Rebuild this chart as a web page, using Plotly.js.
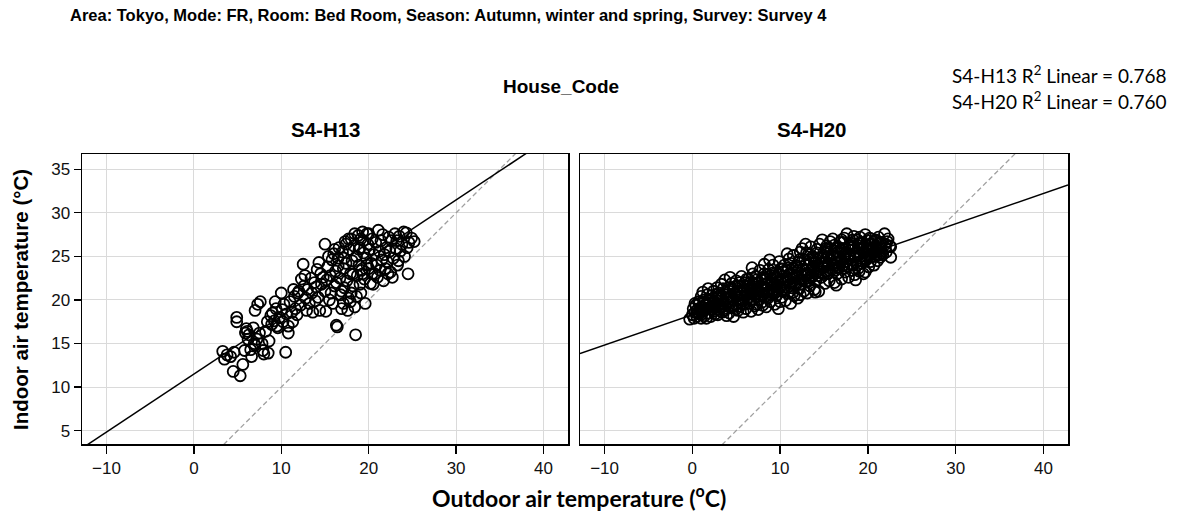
<!DOCTYPE html>
<html>
<head>
<meta charset="utf-8">
<script src="https://cdn.plot.ly/plotly-3.0.1.min.js"></script>
<style>html,body{margin:0;padding:0;background:#fff;}#chart{width:1179px;height:513px;}</style>
</head>
<body>
<div id="chart"></div>
<script>
// ---- Data ----
const panelTitles = ["S4-H13", "S4-H20"];
const r2Labels = ["S4-H13 R<sup>2</sup> Linear = 0.768", "S4-H20 R<sup>2</sup> Linear = 0.760"];
const xTicks = [-10, 0, 10, 20, 30, 40];
const yTicks = [5, 10, 15, 20, 25, 30, 35];
// fitted lines: [intercept, slope]
const h13Fit = [11.5, 0.666];
const h20Fit = [18.3, 0.348];

// S4-H13: [outdoor, indoor]
const h13Points = [
[3.3,14.1],[3.5,13.2],[3.8,13.7],[4.2,13.5],[4.5,11.8],[5.3,11.3],[4.6,14.0],[4.9,18.0],[4.9,17.5],[5.6,12.6],
[5.8,14.2],[6.0,16.7],[6.1,16.4],[6.3,16.0],[6.5,14.3],[6.6,13.5],[6.9,15.0],[7.0,14.8],[7.2,15.5],[7.3,19.5],
[7.6,19.8],[7.0,18.8],[7.5,16.2],[7.8,15.0],[8.0,13.8],[8.2,16.4],[8.4,17.5],[8.6,15.3],[8.8,18.2],[8.9,17.2],
[6.2,15.5],[6.8,16.8],[5.9,16.2],[7.9,14.2],[8.5,13.9],
[9.0,18.5],[9.2,17.6],[9.4,19.0],[9.6,16.8],[9.8,18.0],[10.0,20.8],[10.2,17.5],[10.3,19.5],[10.5,14.0],[10.6,18.4],
[10.8,17.0],[11.0,19.8],[11.2,18.6],[11.3,17.5],[11.5,20.4],[11.6,19.0],[11.8,18.3],[12.0,21.0],[12.2,19.4],[12.3,22.4],
[12.5,24.1],[12.6,21.6],[12.8,20.2],[13.0,21.2],[13.2,19.6],[13.4,22.5],[13.5,20.8],[13.6,18.6],[13.8,22.0],[14.0,21.5],
[14.1,23.5],[14.2,20.3],[14.4,18.8],[14.5,23.0],[14.6,21.8],[14.8,22.6],[9.5,17.0],[10.8,16.2],[11.9,20.8],[12.9,18.8],
[13.9,19.9],[9.3,19.8],[10.1,18.9],[11.4,21.2],[12.7,22.8],[14.3,24.3],
[15.0,26.4],[15.0,21.0],[15.1,18.7],[15.3,23.8],[15.5,20.0],[15.6,22.8],[15.8,24.6],[15.9,19.6],[16.0,25.3],[16.1,21.6],
[16.2,23.3],[16.3,17.1],[16.4,16.9],[16.5,24.8],[16.6,26.0],[16.7,22.5],[16.8,20.6],[16.9,19.0],[17.0,25.5],[17.1,23.6],
[17.2,21.4],[17.3,26.7],[17.4,24.2],[17.5,22.2],[17.6,18.8],[17.7,20.2],[17.8,25.8],[17.9,23.0],[18.0,27.0],[18.1,24.5],
[18.2,21.6],[18.3,26.2],[18.4,19.2],[18.5,16.0],[18.6,25.0],[18.7,22.8],[18.8,27.4],[18.9,24.0],[19.0,26.0],[19.1,20.8],
[19.2,23.4],[19.3,27.8],[19.4,25.4],[19.5,22.4],[19.6,19.6],[19.7,24.8],[19.8,27.6],[19.9,26.4],[20.0,23.6],[20.1,25.8],
[20.2,21.9],[20.3,24.2],[20.4,27.0],[20.5,21.8],[20.6,25.2],[20.7,23.0],[20.8,26.6],[20.9,24.0],[21.0,22.6],[21.1,28.0],
[21.2,25.6],[15.4,25.0],[16.5,23.9],[17.2,24.8],[17.7,27.0],[18.2,23.0],[18.6,20.4],[19.0,21.8],[19.4,26.8],[15.7,20.8],
[16.9,21.0],[17.9,19.8],[18.9,25.8],[19.8,24.0],[20.4,23.0],[16.1,25.8],[17.4,26.4],[18.4,27.6],[19.1,27.0],[15.2,22.3],
[16.3,22.0],[17.1,19.6],[18.0,20.8],[19.3,23.0],[20.0,27.6],
[21.3,23.4],[21.4,26.8],[21.5,24.6],[21.6,27.5],[21.8,25.2],[21.9,23.6],[22.0,26.0],[22.1,24.4],[22.3,27.2],[22.4,25.6],
[22.5,23.2],[22.6,26.8],[22.8,24.8],[23.0,27.6],[23.1,25.9],[23.2,26.8],[23.4,24.5],[23.5,27.3],[23.6,25.6],[23.8,26.4],
[24.0,27.8],[24.1,25.0],[24.3,27.7],[24.4,26.0],[24.5,23.0],[24.6,26.6],[24.9,27.1],[25.2,26.7],[21.7,22.2],[22.2,23.0],
[22.7,22.6],[23.3,24.0]
];

// S4-H20: [outdoor, indoor]
const h20Points = [
[-0.3,17.8],[0,18.3],[0.1,19.0],[0.2,17.9],[0.3,18.6],[0.4,19.4],[0.5,18.1],[0.6,18.9],[0.7,19.8],[0.8,18.4],
[1.0,20.4],[1.0,17.9],[1.1,19.2],[1.2,18.7],[1.3,20.0],[1.4,18.2],[1.5,19.5],[1.6,18.9],[1.7,20.6],[1.8,21.3],
[1.9,18.5],[2.0,19.9],[0.9,19.1],[1.6,17.9],[0.3,19.6],[1.2,20.9],
[2.1,18.1],[2.2,20.5],[2.3,19.3],[2.4,21.0],[2.5,18.7],[2.6,20.1],[2.7,19.6],[2.8,21.4],[2.9,18.3],[3.0,20.8],
[3.1,19.2],[3.2,19.9],[3.3,21.8],[3.4,18.6],[3.5,20.4],[3.6,19.0],[3.7,22.3],[3.8,20.9],[3.9,18.2],[4.0,19.7],
[2.5,19.8],[3.0,18.9],[3.5,21.3],[2.2,19.0],[3.8,19.4],[2.9,20.3],
[4.1,21.4],[4.2,18.5],[4.3,20.3],[4.4,19.1],[4.5,21.9],[4.6,20.0],[4.7,18.1],[4.8,20.7],[4.9,19.5],[5.0,22.2],
[5.1,21.0],[5.2,18.8],[5.3,20.2],[5.4,19.3],[5.5,21.6],[5.6,22.7],[5.7,19.9],[5.8,18.6],[5.9,21.1],[6.0,20.5],
[4.3,22.6],[5.0,19.0],[5.5,20.0],[4.6,21.2],[5.8,19.5],[6.0,22.0],
[6.1,19.0],[6.2,21.5],[6.3,20.1],[6.4,22.4],[6.5,19.6],[6.6,21.0],[6.7,18.7],[6.8,20.7],[6.9,23.0],[7.0,21.8],
[7.1,19.3],[7.2,20.4],[7.3,22.3],[7.4,21.2],[7.5,18.9],[7.6,20.0],[7.7,23.4],[7.8,21.6],[7.9,19.7],[8.0,22.6],
[8.1,20.6],[8.2,24.1],[6.5,21.9],[7.0,20.1],[7.5,22.0],[8.0,19.4],[6.8,23.7],[7.3,19.5],
[8.3,21.3],[8.4,19.2],[8.5,22.9],[8.6,20.2],[8.7,23.5],[8.8,21.0],[8.9,19.8],[9.0,22.4],[9.1,20.9],[9.2,24.0],
[9.3,21.7],[9.4,19.5],[9.5,23.1],[9.6,20.5],[9.7,22.1],[9.8,19.0],[9.9,24.4],[10.0,21.4],[10.1,23.6],[10.2,20.3],
[8.5,21.9],[9.0,20.6],[9.5,22.6],[10.0,19.8],[8.8,24.6],[9.7,21.0],
[10.3,22.7],[10.4,21.0],[10.5,24.0],[10.6,19.9],[10.7,22.2],[10.8,23.3],[10.9,20.8],[11.0,24.7],[11.1,21.6],[11.2,19.6],
[11.3,23.0],[11.4,22.0],[11.5,25.1],[11.6,20.5],[11.7,23.8],[11.8,21.8],[11.9,22.8],[12.0,20.2],[12.1,24.3],[12.2,21.3],
[12.3,25.5],[12.4,22.4],[12.5,25.9],[10.5,21.5],[11.0,22.9],[11.5,20.9],[12.0,23.4],[10.8,25.3],[12.3,20.6],
[12.6,23.5],[12.7,21.0],[12.8,24.6],[12.9,22.1],[13.0,25.4],[13.1,20.8],[13.2,23.0],[13.3,24.0],[13.4,21.6],[13.5,26.1],
[13.6,22.6],[13.7,25.0],[13.8,23.7],[13.9,21.2],[14.0,24.4],[14.1,22.2],[14.2,25.8],[14.3,23.3],[14.4,21.0],[14.5,26.4],
[12.8,22.9],[13.3,22.2],[13.8,24.8],[14.2,23.9],[12.9,26.4],[14.0,20.9],
[14.6,24.9],[14.7,22.6],[14.8,26.9],[14.9,23.8],[15.0,25.5],[15.1,21.9],[15.2,24.3],[15.3,26.2],[15.4,23.1],[15.5,25.0],
[15.6,22.2],[15.7,26.7],[15.8,24.6],[15.9,23.5],[16.0,27.0],[16.1,25.3],[16.2,22.0],[16.3,24.0],[16.4,26.0],[16.5,23.0],
[14.8,24.2],[15.3,24.8],[15.8,25.9],[16.2,24.9],[15.0,22.9],[16.4,21.7],
[16.6,25.5],[16.7,23.6],[16.8,26.6],[16.9,24.4],[17.0,22.4],[17.1,25.9],[17.2,24.0],[17.3,27.1],[17.4,23.2],[17.5,25.3],
[17.6,27.6],[17.7,24.7],[17.8,22.6],[17.9,26.3],[18.0,24.1],[18.1,25.7],[18.2,23.4],[18.3,26.9],[18.4,24.9],[18.5,22.9],
[16.8,24.9],[17.3,25.0],[17.8,25.2],[18.2,26.0],[17.0,26.9],[18.4,27.3],
[18.6,22.3],[18.7,25.5],[18.8,24.0],[18.9,26.5],[19.0,23.3],[19.1,27.2],[19.2,25.0],[19.3,24.2],[19.4,26.0],[19.5,23.0],
[19.6,25.6],[19.7,27.5],[19.7,23.2],[19.8,24.6],[19.9,26.8],[20.0,25.2],[20.1,23.8],[20.2,26.4],[20.3,24.4],[20.4,27.0],
[18.8,26.9],[19.3,25.9],[19.9,25.0],[20.2,25.8],[18.9,23.6],
[20.6,25.4],[20.7,24.0],[20.8,26.8],[20.9,25.0],[21.0,26.1],[21.1,24.5],[21.2,27.2],[21.3,25.6],[21.4,24.9],[21.6,26.6],
[21.7,25.2],[21.9,27.6],[22.0,26.4],[22.1,25.5],[22.3,27.0],[22.5,26.2],[22.6,24.9],[22.6,26.1],[21.5,25.9],[20.9,26.9],
[0.5,18.5],[1.0,18.8],[1.5,19.0],[2.0,19.2],[2.5,19.3],[3.0,19.5],[3.5,19.6],[4.0,20.2],[4.5,20.4],[5.0,20.6],
[5.5,20.9],[6.0,21.2],[6.5,20.8],[7.0,21.3],[7.5,21.0],[8.0,21.5],[8.5,21.2],[9.0,21.8],[9.5,21.5],[10.0,22.2],
[10.5,22.0],[11.0,22.3],[11.5,22.5],[12.0,22.0],[12.5,22.8],[13.0,23.0],[13.5,23.4],[14.0,23.0],[14.5,23.6],[15.0,23.8],
[15.5,24.0],[16.0,24.1],[16.5,24.3],[17.0,24.6],[17.5,24.4],[18.0,24.8],[18.5,25.0],[19.0,25.2],[19.5,25.4],[20.0,25.6],
[20.5,25.9],[21.0,25.8],[21.5,26.3],[22.0,26.0],
[1.8,20.0],[2.7,20.6],[3.3,20.2],[4.2,21.0],[5.2,21.6],[6.2,22.4],[7.2,22.7],[8.2,23.0],[9.2,23.1],[10.2,23.5],
[11.2,24.2],[12.2,24.6],[13.2,25.2],[14.2,25.4],[15.2,25.9],[16.2,26.3],[17.2,26.6],[18.2,26.5],[19.2,26.6],[20.2,27.1],
[2.6,18.4],[3.6,18.8],[4.6,19.3],[5.6,19.6],[6.6,20.0],[7.6,20.4],[8.6,20.9],[9.6,21.2],[10.6,21.5],[11.6,21.9],
[12.6,22.2],[13.6,22.8],[14.6,23.2],[15.6,23.4],[16.6,23.8],[17.6,23.9],[18.6,24.3],[19.6,24.8],[20.6,25.0],[21.6,25.4],
[0.8,19.6],[1.4,19.8],[2.4,19.6],[3.2,20.6],[3.9,20.6],[4.8,21.5],[5.4,22.0],[6.4,21.6],[6.9,22.0],[7.4,21.9],
[7.9,22.3],[8.4,22.5],[8.9,22.8],[9.4,22.4],[9.9,22.9],[10.4,23.2],[10.9,23.7],[11.4,23.6],[11.9,23.9],[12.4,23.8],
[12.9,24.1],[13.4,24.6],[13.9,24.3],[14.4,24.8],[14.9,25.0],[15.4,25.3],[15.9,25.1],[16.4,25.6],[16.9,25.8],[17.4,25.9],
[17.9,26.0],[18.4,26.2],[18.9,26.2],[19.4,26.5],[19.9,26.2],[20.4,26.4],[20.9,26.0],[21.4,26.6],[22.2,26.7],
[1.1,18.4],[2.3,18.9],[3.3,19.1],[4.4,19.8],[5.3,20.0],[6.3,20.6],[7.3,20.8],[8.3,20.4],[9.3,20.7],[10.3,21.2],
[11.3,21.4],[12.3,21.8],[13.3,22.5],[14.3,22.8],[15.3,23.3],[16.3,23.4],[17.3,23.6],[18.3,24.0],[19.3,24.5],[20.3,24.9],
[21.3,25.2]
];

// ---- Layout geometry ----
const W = 1179, H = 513;
const xRange = [-12.8, 42.8];
const yRange = [3.47, 36.75];
const px = v => v / W;
const py = v => 1 - v / H;

function panelTraces(points, fitAB, xa, ya) {
  return [
    {x: xRange, y: xRange, xaxis: xa, yaxis: ya, mode: 'lines', type: 'scatter',
     line: {color: '#a0a0a0', width: 1.3, dash: '5px,3px'}, hoverinfo: 'skip', showlegend: false},
    {x: points.map(p => p[0]), y: points.map(p => p[1]), xaxis: xa, yaxis: ya, mode: 'markers', type: 'scatter',
     marker: {symbol: 'circle-open', size: 11, color: '#000', line: {width: 1.8, color: '#000'}}, showlegend: false},
    {x: xRange, y: xRange.map(x => fitAB[0] + fitAB[1] * x), xaxis: xa, yaxis: ya, mode: 'lines', type: 'scatter',
     line: {color: '#000', width: 1.5}, hoverinfo: 'skip', showlegend: false}
  ];
}

const traces = [...panelTraces(h13Points, h13Fit, 'x', 'y'), ...panelTraces(h20Points, h20Fit, 'x2', 'y2')];

const tickFont = {family: 'Liberation Sans Narrow, Liberation Sans, Arial, sans-serif', size: 17, color: '#111'};
function xAxis(domain, anchor) {
  return {domain, anchor, range: xRange, tickvals: xTicks, ticktext: xTicks.map(t => t < 0 ? '\u2212' + Math.abs(t) : String(t)),
    ticks: 'outside', ticklen: 8, tickwidth: 1.3, tickcolor: '#000', showline: true, linecolor: '#000', linewidth: 1.5,
    mirror: true, showgrid: true, gridcolor: '#dadada', gridwidth: 1, zeroline: false, tickfont: tickFont, fixedrange: true};
}
const layout = {
  width: W, height: H,
  margin: {l: 0, r: 0, t: 0, b: 0},
  paper_bgcolor: '#fff', plot_bgcolor: '#fff',
  showlegend: false,
  xaxis: xAxis([px(82), px(568)], 'y'),
  xaxis2: xAxis([px(580), px(1068)], 'y2'),
  yaxis: {domain: [py(444), py(154)], anchor: 'x', range: yRange, tickvals: yTicks,
    ticks: 'outside', ticklen: 7, tickwidth: 1.3, tickcolor: '#000', showline: true, linecolor: '#000', linewidth: 1.5,
    mirror: true, showgrid: true, gridcolor: '#dadada', zeroline: false, tickfont: tickFont, fixedrange: true},
  yaxis2: {domain: [py(444), py(154)], anchor: 'x2', range: yRange, tickvals: yTicks, showticklabels: false,
    ticks: '', showline: true, linecolor: '#000', linewidth: 1.5, mirror: true, showgrid: true, gridcolor: '#dadada',
    zeroline: false, fixedrange: true},
  annotations: [
    {text: '<b>Area: Tokyo, Mode: FR, Room: Bed Room, Season: Autumn, winter and spring, Survey: Survey 4</b>',
     x: px(68), y: py(15), xref: 'paper', yref: 'paper', xanchor: 'left', yanchor: 'middle', showarrow: false,
     font: {family: 'Liberation Sans, Arial, sans-serif', size: 16.5, color: '#000'}},
    {text: '<b>House_Code</b>', x: px(561), y: py(87), xref: 'paper', yref: 'paper', xanchor: 'center', yanchor: 'middle',
     showarrow: false, font: {family: 'Liberation Sans, Arial, sans-serif', size: 19, color: '#000'}},
    {text: '<b>' + panelTitles[0] + '</b>', x: px(326), y: py(129), xref: 'paper', yref: 'paper', xanchor: 'center', yanchor: 'middle',
     showarrow: false, font: {family: 'Liberation Sans, Arial, sans-serif', size: 20.5, color: '#000'}},
    {text: '<b>' + panelTitles[1] + '</b>', x: px(812), y: py(129), xref: 'paper', yref: 'paper', xanchor: 'center', yanchor: 'middle',
     showarrow: false, font: {family: 'Liberation Sans, Arial, sans-serif', size: 20.5, color: '#000'}},
    {text: r2Labels[0], x: px(1169), y: py(74), xref: 'paper', yref: 'paper', xanchor: 'right', yanchor: 'middle',
     showarrow: false, font: {family: 'Lato, sans-serif', size: 19, color: '#000'}},
    {text: r2Labels[1], x: px(1169), y: py(100), xref: 'paper', yref: 'paper', xanchor: 'right', yanchor: 'middle',
     showarrow: false, font: {family: 'Lato, sans-serif', size: 19, color: '#000'}},
    {text: '<b>Indoor air temperature (°C)</b>', x: px(20), y: py(300), xref: 'paper', yref: 'paper', xanchor: 'center', yanchor: 'middle',
     textangle: -90, showarrow: false, font: {family: 'Liberation Sans, Arial, sans-serif', size: 20.5, color: '#000'}},
    {text: '<b>Outdoor air temperature (<sup>o</sup>C)</b>', x: px(579), y: py(496), xref: 'paper', yref: 'paper', xanchor: 'center', yanchor: 'middle',
     showarrow: false, font: {family: 'Lato, sans-serif', size: 23, color: '#000'}}
  ]
};

Plotly.newPlot('chart', traces, layout, {staticPlot: true, displayModeBar: false});
</script>
</body>
</html>
